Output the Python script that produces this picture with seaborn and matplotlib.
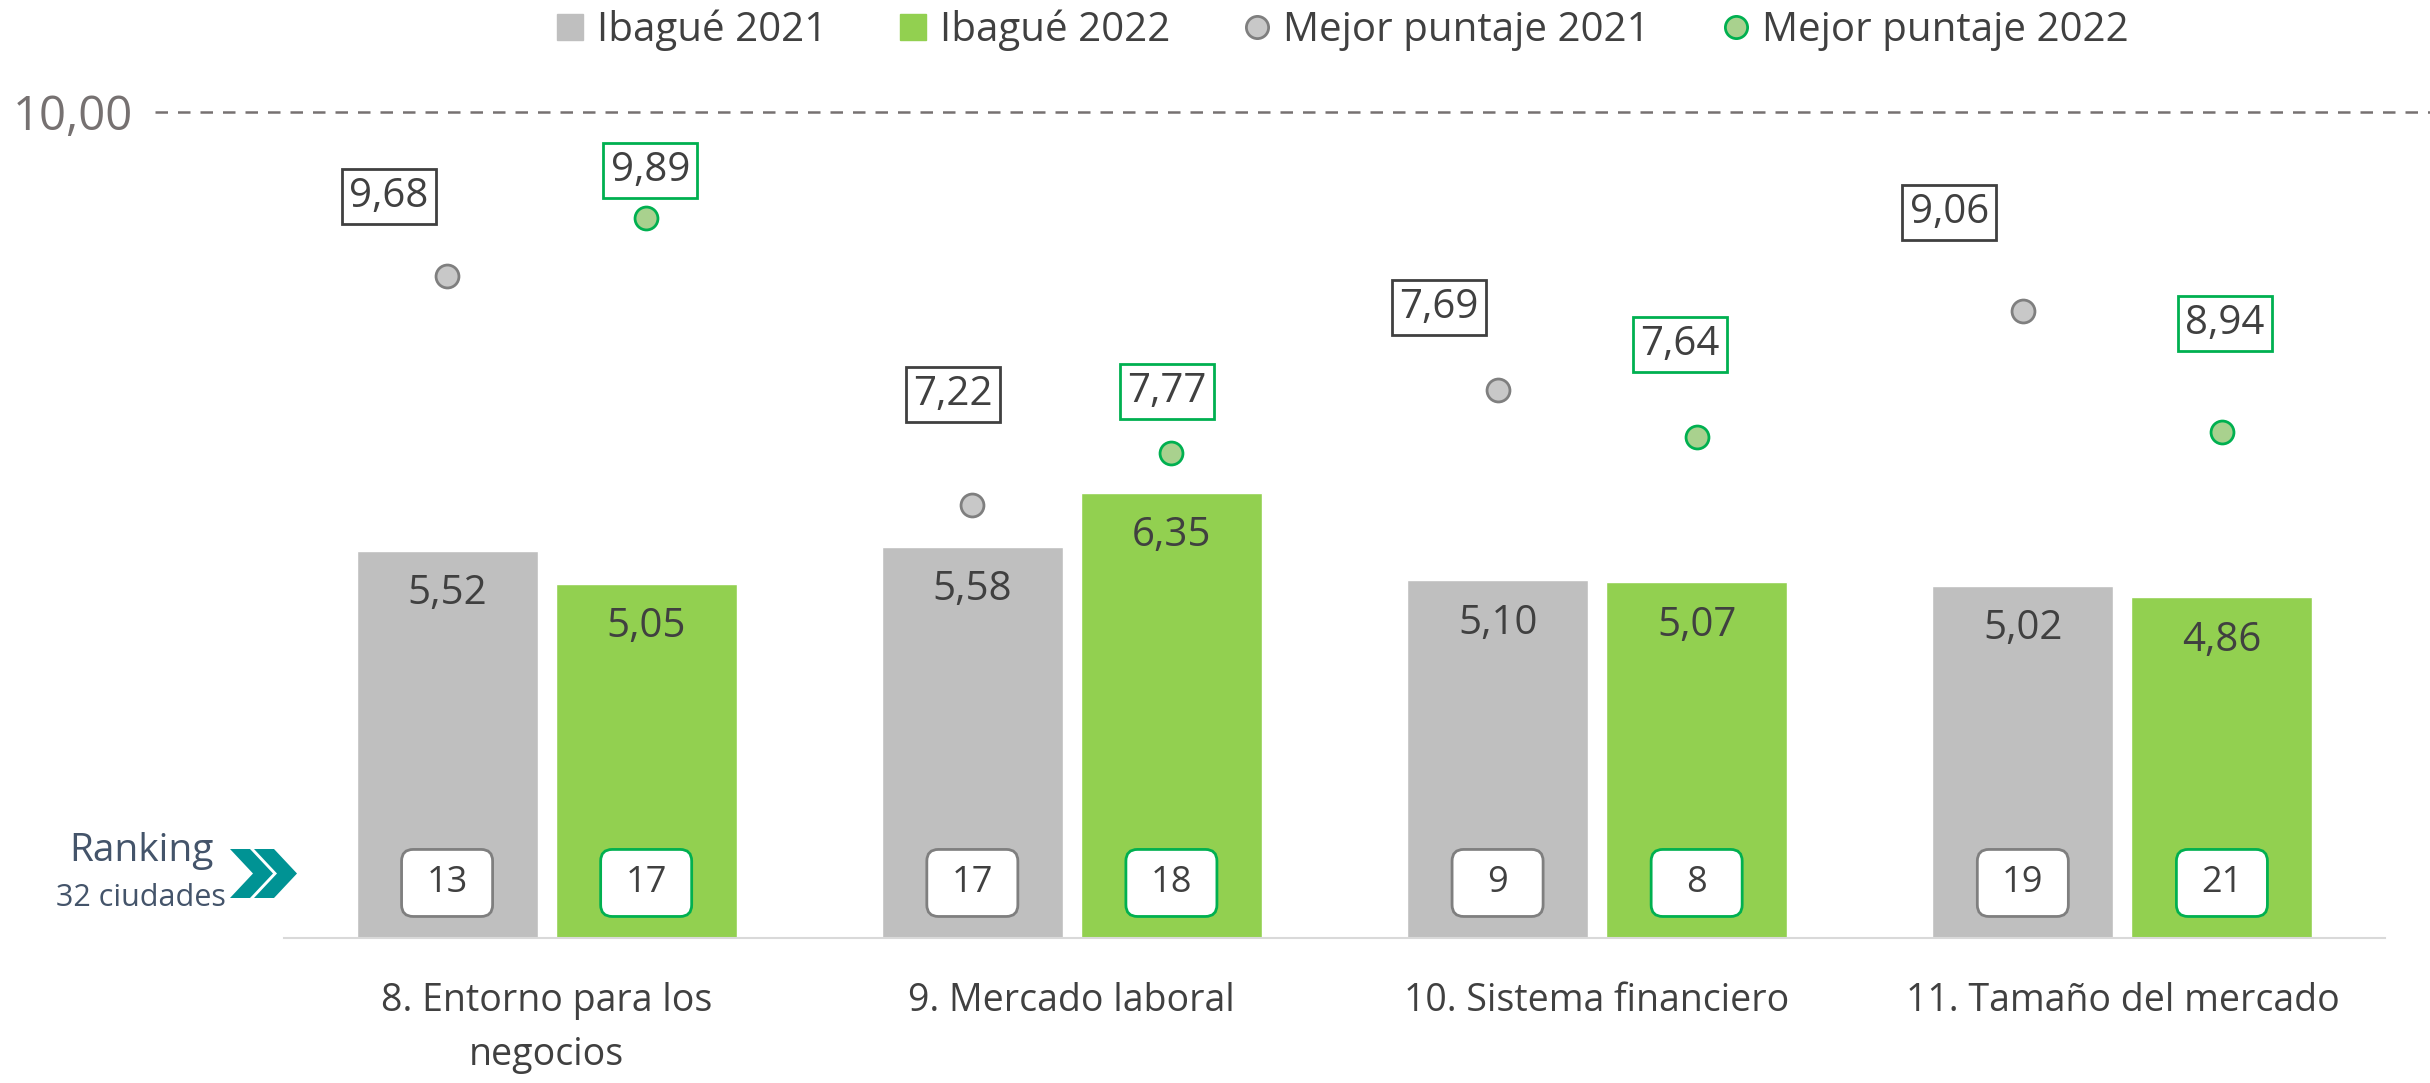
import pandas as pd
import matplotlib.pyplot as plt
import seaborn as sns
from matplotlib.lines import Line2D
from matplotlib.patches import FancyBboxPatch, Polygon
from matplotlib.ticker import FixedLocator

# Data
categories = ["8. Entorno para los\nnegocios", "9. Mercado laboral",
              "10. Sistema financiero", "11. Tamaño del mercado"]
series = ["Ibagué 2021", "Ibagué 2022"]
ibague_2021 = [5.52, 5.58, 5.10, 5.02]
ibague_2022 = [5.05, 6.35, 5.07, 4.86]
# best score labels
best_2021 = [9.68, 7.22, 7.69, 9.06]
best_2022 = [9.89, 7.77, 7.64, 8.94]
# heights where the source chart draws those markers (read on the bar scale)
best_2021_marker = [9.44, 6.18, 7.82, 8.94]
best_2022_marker = [10.27, 6.92, 7.15, 7.22]
rank_2021 = [13, 17, 9, 19]
rank_2022 = [17, 18, 8, 21]
ref_label = "10,00"

# Colours / layout
GRAY, GREEN = "#bfbfbf", "#92d050"
PT_GRAY, PT_GRAY_EDGE = "#c8c8c8", "#7f7f7f"
PT_GREEN, PT_GREEN_EDGE = "#a9d18e", "#00b050"
TEXT = "#404040"
# label offsets from each marker (points)
off_2021 = [(-42, 57), (-14, 79), (-42, 59), (-53, 71)]
off_2022 = [(3, 34), (-3, 44), (-12, 66), (2, 78)]

W, H = 2430, 1083


def fmt(v):
    return f"{v:.2f}".replace(".", ",")


sns.set_style("white")
plt.rcParams['font.family'] = ['Open Sans', 'DejaVu Sans']

fig = plt.figure(figsize=(W / 100, H / 100), dpi=100)
ax = fig.add_axes([284 / W, 1 - 938 / H, (2385 - 284) / W, (938 - 112) / H])

df = pd.DataFrame({
    'categoria': categories * 2,
    'serie': [series[0]] * 4 + [series[1]] * 4,
    'valor': ibague_2021 + ibague_2022,
})
sns.barplot(data=df, x='categoria', y='valor', hue='serie', hue_order=series,
            palette=[GRAY, GREEN], width=0.758, gap=0.09, saturation=1,
            errorbar=None, legend=False, ax=ax)
ax.set_xlim(-0.5, 3.5)
ax.set_ylim(0, 11.78)

centers = [[b.get_x() + b.get_width() / 2 for b in c] for c in ax.containers]

# values inside bars
for cont, vals in zip(ax.containers, [ibague_2021, ibague_2022]):
    for b, v in zip(cont, vals):
        ax.annotate(fmt(v), (b.get_x() + b.get_width() / 2, v), xytext=(0, -31),
                    textcoords='offset points', ha='center', va='center',
                    fontsize=29, color=TEXT)

# ranking boxes
bx_w, bx_h, bx_y = 0.1733, 0.956, 0.785
for xs, ranks, ec in [(centers[0], rank_2021, PT_GRAY_EDGE), (centers[1], rank_2022, PT_GREEN_EDGE)]:
    for x, r in zip(xs, ranks):
        ax.add_patch(FancyBboxPatch((x - bx_w / 2, bx_y - bx_h / 2), bx_w, bx_h,
                                    boxstyle='round,pad=0,rounding_size=0.022',
                                    mutation_aspect=7.49, fc='white', ec=ec, lw=2, zorder=3))
        ax.text(x, bx_y, str(r), ha='center', va='center', fontsize=26, color=TEXT, zorder=4)

# best score markers and labels
for xs, ys, vals, offs, fc, ec in [
        (centers[0], best_2021_marker, best_2021, off_2021, PT_GRAY, PT_GRAY_EDGE),
        (centers[1], best_2022_marker, best_2022, off_2022, PT_GREEN, PT_GREEN_EDGE)]:
    ax.scatter(xs, ys, s=16.5 ** 2, c=fc, edgecolors=ec, linewidths=2, zorder=5, clip_on=False)
    box_ec = "#404040" if ec == PT_GRAY_EDGE else ec
    for x, y, v, o in zip(xs, ys, vals, offs):
        ax.annotate(fmt(v), (x, y), xytext=o, textcoords='offset points',
                    ha='center', va='center', fontsize=29, color=TEXT, zorder=6,
                    bbox=dict(boxstyle='square,pad=0.18', fc='white', ec=box_ec, lw=2))

# reference line at the top
ax.axhline(11.78, xmin=(155 - 284) / 2101, xmax=(W - 284) / 2101, color='#767171',
           lw=1.8, linestyle=(0, (5, 4)), clip_on=False)
fig.text(13 / W, 1 - 117 / H, ref_label, ha='left', va='center', fontsize=34, color='#767171')

# axes styling
for s in ['left', 'top', 'right']:
    ax.spines[s].set_visible(False)
ax.spines['bottom'].set_color('#d9d9d9')
ax.spines['bottom'].set_linewidth(1.5)
ax.set_yticks([])
ax.set_xlabel('')
ax.set_ylabel('')
ax.xaxis.set_minor_locator(FixedLocator([-0.5, 0.5, 1.5, 2.5, 3.5]))
ax.tick_params(axis='x', which='major', length=0, pad=32, labelsize=27, labelcolor=TEXT)
ax.tick_params(axis='x', which='minor', length=10, width=1.5, color='#d9d9d9')
for lbl in ax.get_xticklabels():
    lbl.set_linespacing(1.55)

# ranking caption with chevrons
fig.text(141 / W, 1 - 851 / H, "Ranking", ha='center', va='center', fontsize=28, color='#44546a')
fig.text(141 / W, 1 - 898 / H, "32 ciudades", ha='center', va='center', fontsize=22, color='#44546a')
for x0 in [230, 254]:
    t, w, top, bot = 20, 23, 849, 898
    mid = (top + bot) / 2
    pts = [(x0, top), (x0 + t, top), (x0 + t + w, mid), (x0 + t, bot), (x0, bot), (x0 + w, mid)]
    fig.patches.append(Polygon([(px / W, 1 - py / H) for px, py in pts], closed=True,
                               transform=fig.transFigure, fc='#009394', ec='none'))

# legend
handles = [
    Line2D([], [], marker='s', ls='', ms=18.7, mfc=GRAY, mec=GRAY),
    Line2D([], [], marker='s', ls='', ms=18.7, mfc=GREEN, mec=GREEN),
    Line2D([], [], marker='o', ls='', ms=16, mfc=PT_GRAY, mec=PT_GRAY_EDGE, mew=2),
    Line2D([], [], marker='o', ls='', ms=16, mfc=PT_GREEN, mec=PT_GREEN_EDGE, mew=2),
]
labels = series + ["Mejor puntaje 2021", "Mejor puntaje 2022"]
fig.legend(handles, labels, loc='center', bbox_to_anchor=(0.5525, 1 - 30 / H), ncol=4,
           frameon=False, fontsize=29, handlelength=0.7, handletextpad=0.3,
           columnspacing=1.8, labelcolor=TEXT)

fig.savefig('out.png', dpi=100)
